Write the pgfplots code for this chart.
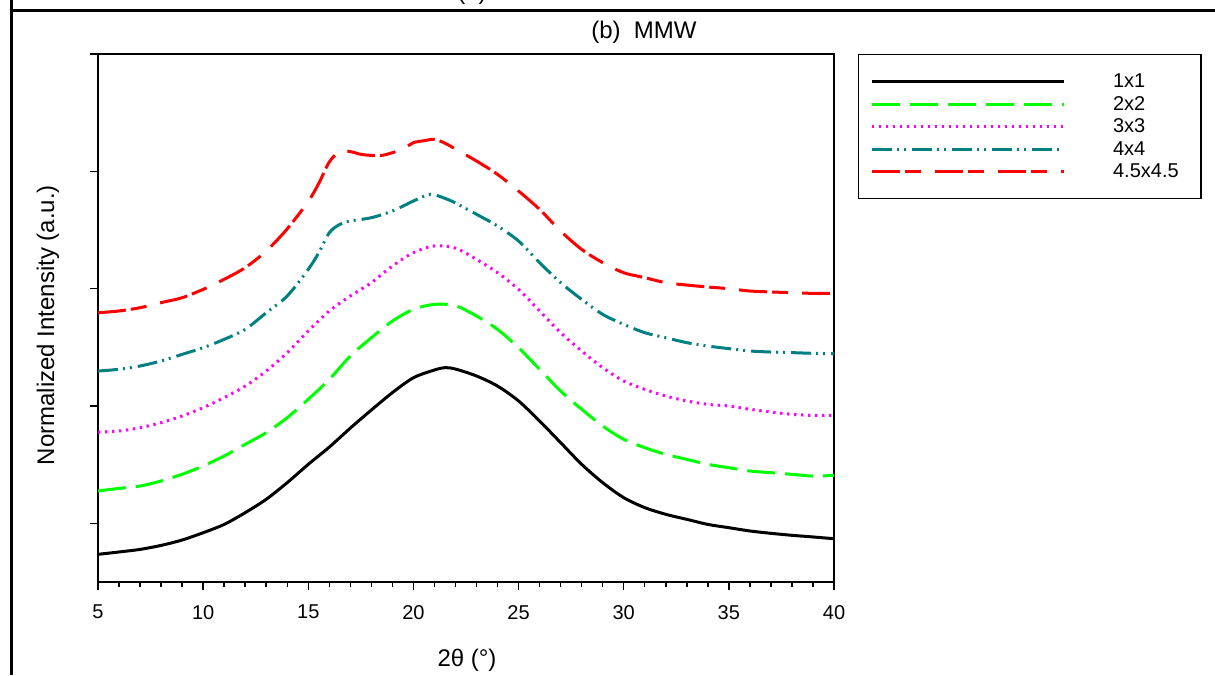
\documentclass[border=0pt]{standalone}
\usepackage{pgfplots}
\pgfplotsset{compat=1.18}
\usepackage{fontspec}
\setmainfont{Liberation Sans}
\definecolor{c1}{RGB}{0,0,0}
\definecolor{c2}{RGB}{0,255,0}
\definecolor{c3}{RGB}{255,0,255}
\definecolor{c4}{RGB}{0,128,128}
\definecolor{c5}{RGB}{255,0,0}
\newcommand{\lt}[1]{\makebox[37.5pt][l]{#1}}
\begin{document}
\begin{tikzpicture}
\useasboundingbox (0,0) rectangle (607.5pt,-337.5pt);
% frame of the figure cell
\draw[line width=1.5pt] (5.5pt,0pt) -- (5.5pt,-337.5pt);
\draw[line width=1.5pt] (4.75pt,-5.25pt) -- (607.5pt,-5.25pt);
\node[anchor=base, inner sep=0pt, font=\fontsize{12}{14}\selectfont] at (236pt,0.3pt) {(a)};
\begin{axis}[
    at={(49pt,-291pt)}, anchor=south west,
    scale only axis, width=368pt, height=264pt,
    xmin=5, xmax=40, ymin=0.5, ymax=5,
    xtick={5,10,...,40}, minor x tick num=4,
    ytick={1,2,3,4,5}, yticklabels={},
    xtick pos=bottom, ytick pos=left,
    tick align=outside,
    major tick length=4pt, minor tick length=2.5pt,
    tick style={black, line width=0.75pt},
    axis line style={line width=0.75pt},
    /pgf/number format/assume math mode=true,
    ticklabel style={font=\fontsize{10}{12}\selectfont},
    xticklabel style={yshift=-4pt},
    title={(b)\ \ MMW},
    every axis title shift=0pt,
    title style={at={(0.7418,1.0417)}, anchor=center, yshift=0pt, font=\fontsize{12}{14}\selectfont},
    xlabel={2θ (°)},
    xlabel style={at={(axis description cs:0.5014,-0.1477)}, anchor=center, font=\fontsize{12}{14}\selectfont},
    ylabel={Normalized Intensity (a.u.)},
    ylabel style={at={(axis description cs:-0.0679,0.4867)}, anchor=center, font=\fontsize{12}{14}\selectfont},
    legend image code/.code={\draw[#1] (0pt,0pt) -- (96pt,0pt); \path[draw=none] (0pt,0pt) -- (120pt,0pt);},
    legend cell align=left,
    legend style={at={(1.0326,1.0)}, anchor=north west, draw=black, line width=0.6pt,
        fill=white, inner xsep=6pt, inner ysep=9pt, row sep=2.25pt,
        font=\fontsize{10}{12}\selectfont,
        nodes={inner sep=0.5pt, text height=7pt, text depth=1pt}},
]
\addplot[c1, line width=1.5pt, smooth] coordinates {
(5,0.736)(6,0.756)(7,0.778)(8,0.812)(9,0.858)(10,0.920)(11,0.991)(12,1.091)
(13,1.205)(14,1.347)(15,1.503)(16,1.650)(17,1.812)(18,1.966)(19,2.114)(20,2.241)
(21,2.307)(21.5,2.327)(22,2.315)(23,2.256)(24,2.170)(25,2.043)(26,1.872)(27,1.688)
(28,1.503)(29,1.347)(30,1.219)(31,1.134)(32,1.077)(33,1.034)(34,0.991)(35,0.963)
(36,0.935)(37,0.915)(38,0.898)(39,0.884)(40,0.869)};
\addlegendentry{\lt{1x1}}
\addplot[c2, line width=1.5pt, smooth, dash pattern=on 14pt off 5pt] coordinates {
(5,1.276)(6,1.298)(7,1.318)(8,1.361)(9,1.418)(10,1.489)(11,1.574)(12,1.673)
(13,1.773)(14,1.901)(15,2.057)(16,2.227)(17,2.426)(18,2.582)(19,2.724)(20,2.824)
(21,2.866)(22,2.855)(23,2.767)(24,2.653)(25,2.497)(26,2.313)(27,2.128)(28,1.972)
(29,1.830)(30,1.716)(31,1.645)(32,1.588)(33,1.545)(34,1.503)(35,1.474)(36,1.446)
(37,1.432)(38,1.418)(39,1.403)(40,1.409)};
\addlegendentry{\lt{2x2}}
\addplot[c3, line width=1.5pt, smooth, dash pattern=on 1.2pt off 2.3pt] coordinates {
(5,1.778)(6,1.787)(7,1.815)(8,1.858)(9,1.915)(10,1.986)(11,2.071)(12,2.170)
(13,2.298)(14,2.455)(15,2.639)(16,2.810)(17,2.938)(18,3.051)(19,3.193)(20,3.307)
(21,3.364)(22,3.345)(23,3.250)(24,3.136)(25,2.994)(26,2.810)(27,2.625)(28,2.469)
(29,2.327)(30,2.213)(31,2.142)(32,2.085)(33,2.043)(34,2.014)(35,2.000)(36,1.972)
(37,1.949)(38,1.929)(39,1.920)(40,1.920)};
\addlegendentry{\lt{3x3}}
\addplot[c4, line width=1.5pt, smooth, dash pattern=on 10pt off 2.5pt on 1pt off 2.5pt on 1pt off 3pt] coordinates {
(5,2.298)(6,2.313)(7,2.341)(8,2.384)(9,2.440)(10,2.497)(11,2.568)(12,2.653)
(13,2.795)(14,2.938)(15,3.165)(15.5,3.307)(16,3.477)(16.5,3.548)(17,3.577)(18,3.605)
(19,3.662)(20,3.747)(20.8,3.804)(21.5,3.770)(22,3.730)(23,3.634)(24,3.534)(25,3.406)
(26,3.222)(27,3.051)(28,2.909)(29,2.781)(30,2.696)(31,2.625)(32,2.582)(33,2.540)
(34,2.511)(35,2.489)(36,2.469)(37,2.460)(38,2.455)(39,2.449)(40,2.446)};
\addlegendentry{\lt{4x4}}
\addplot[c5, line width=1.5pt, smooth, dash pattern=on 14pt off 2.5pt on 8pt off 7pt] coordinates {
(5,2.795)(6,2.810)(7,2.838)(8,2.881)(9,2.923)(10,2.994)(11,3.080)(12,3.179)
(13,3.321)(14,3.510)(15,3.744)(15.5,3.898)(16,4.080)(16.5,4.170)(17,4.168)(17.5,4.145)
(18,4.136)(18.5,4.136)(19,4.159)(19.5,4.190)(20,4.244)(20.5,4.261)(21,4.273)(21.5,4.240)
(22,4.190)(23,4.088)(24,3.974)(25,3.832)(26,3.676)(27,3.491)(28,3.335)(29,3.222)
(30,3.136)(31,3.094)(32,3.051)(33,3.031)(34,3.014)(35,3.000)(36,2.980)(37,2.972)
(38,2.966)(39,2.960)(40,2.960)};
\addlegendentry{\lt{4.5x4.5}}
\end{axis}
\end{tikzpicture}
\end{document}
